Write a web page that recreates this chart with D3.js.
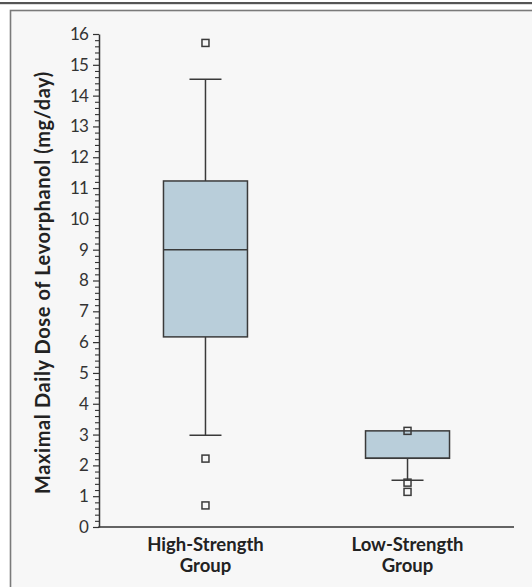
<!DOCTYPE html>
<html><head><meta charset="utf-8">
<script src="https://cdn.jsdelivr.net/npm/d3@7"></script>
<style>
html,body{margin:0;padding:0;background:#fff;}
svg{display:block;}
</style></head>
<body>
<script>
const categories = [["High-Strength","Group"],["Low-Strength","Group"]];
const q1 = [6.17, 2.23];
const median = [9.0, 2.23];
const q3 = [11.23, 3.12];
const whiskerLow = [2.98, 1.52];
const whiskerHigh = [14.53, 3.12];
const outliers = [[15.71, 2.22, 0.70], [3.12, 1.44, 1.14]];
const yTicks = d3.range(0, 17, 1);
const yMinorTicks = d3.range(0, 80, 1).map(d => d / 5);
const yTitle = "Maximal Daily Dose of Levorphanol (mg/day)";

const W = 532, H = 587;
const svg = d3.select("body").append("svg").attr("width", W).attr("height", H);

// frame
svg.append("rect").attr("x", 0).attr("y", 2).attr("width", W).attr("height", 2.2).attr("fill", "#555");
svg.append("rect").attr("x", 10.5).attr("y", 10.5).attr("width", W).attr("height", H)
  .attr("fill", "#f7f7f7").attr("stroke", "#7a7a7a").attr("stroke-width", 1.6);

const y = d3.scaleLinear().domain([0, 16]).range([527, 34]);
const x = d3.scalePoint().domain(categories.map((d, i) => i)).range([99, 514]).padding(0.527);

const font = "Lato, 'Open Sans', sans-serif";

// minor ticks
const gMinor = svg.append("g").attr("transform", "translate(99,0)")
  .call(d3.axisLeft(y).tickValues(yMinorTicks.filter(v => Math.abs(v - Math.round(v)) > 1e-6)).tickSize(4).tickFormat(""));
gMinor.select(".domain").remove();
gMinor.selectAll("line").attr("stroke", "#333").attr("stroke-width", 1.1);

const gy = svg.append("g").attr("transform", "translate(99,0)")
  .call(d3.axisLeft(y).tickValues(yTicks).tickSize(6).tickPadding(5).tickSizeOuter(0));
gy.select(".domain").attr("stroke", "#333").attr("stroke-width", 1.5);
gy.selectAll("line").attr("stroke", "#333").attr("stroke-width", 1.2);
gy.attr("font-size", null).attr("font-family", null);
gy.selectAll("text").style("font-family", font).style("font-size", "17px").attr("fill", "#333").attr("letter-spacing", -0.8);

// x axis line
const gx = svg.append("g").attr("transform", "translate(0,527)")
  .call(d3.axisBottom(x).tickSize(0).tickFormat(""));
gx.select(".domain").attr("stroke", "#333").attr("stroke-width", 1.5).attr("d", "M98.3,0H514");

// category labels
categories.forEach((lines, i) => {
  const t = svg.append("text").attr("text-anchor", "middle").style("font-family", font)
    .attr("font-weight", "bold").style("font-size", "18.5px").attr("fill", "#222");
  lines.forEach((l, j) => t.append("tspan").attr("x", x(i)).attr("y", 551 + j * 21).text(l));
});

// y title
svg.append("text").attr("transform", `translate(50,${(y(0) + y(16)) / 2 + 2}) rotate(-90)`)
  .attr("text-anchor", "middle").style("font-family", font).attr("font-weight", "bold")
  .style("font-size", "20px").attr("letter-spacing", 0.6).attr("fill", "#222").text(yTitle);

const boxW = 84, capW = 32, sq = 7;
const stroke = "#3a3a3a";
categories.forEach((c, i) => {
  const cx = x(i);
  const g = svg.append("g");
  // whiskers
  g.append("line").attr("x1", cx).attr("x2", cx).attr("y1", y(q3[i])).attr("y2", y(whiskerHigh[i])).attr("stroke", stroke).attr("stroke-width", 1.5);
  g.append("line").attr("x1", cx).attr("x2", cx).attr("y1", y(q1[i])).attr("y2", y(whiskerLow[i])).attr("stroke", stroke).attr("stroke-width", 1.5);
  if (whiskerHigh[i] > q3[i])
    g.append("line").attr("x1", cx - capW / 2).attr("x2", cx + capW / 2).attr("y1", y(whiskerHigh[i])).attr("y2", y(whiskerHigh[i])).attr("stroke", stroke).attr("stroke-width", 1.5);
  g.append("line").attr("x1", cx - capW / 2).attr("x2", cx + capW / 2).attr("y1", y(whiskerLow[i])).attr("y2", y(whiskerLow[i])).attr("stroke", stroke).attr("stroke-width", 1.5);
  // box
  g.append("rect").attr("x", cx - boxW / 2).attr("y", y(q3[i])).attr("width", boxW).attr("height", y(q1[i]) - y(q3[i]))
    .attr("fill", "#b9ceda").attr("stroke", stroke).attr("stroke-width", 1.5);
  g.append("line").attr("x1", cx - boxW / 2).attr("x2", cx + boxW / 2).attr("y1", y(median[i])).attr("y2", y(median[i])).attr("stroke", stroke).attr("stroke-width", 1.5);
  // outliers
  g.selectAll("rect.o").data(outliers[i]).join("rect").attr("class", "o")
    .attr("x", cx - sq / 2).attr("y", d => y(d) - sq / 2).attr("width", sq).attr("height", sq)
    .attr("fill", "none").attr("stroke", stroke).attr("stroke-width", 1.5);
});
</script>
</body></html>
